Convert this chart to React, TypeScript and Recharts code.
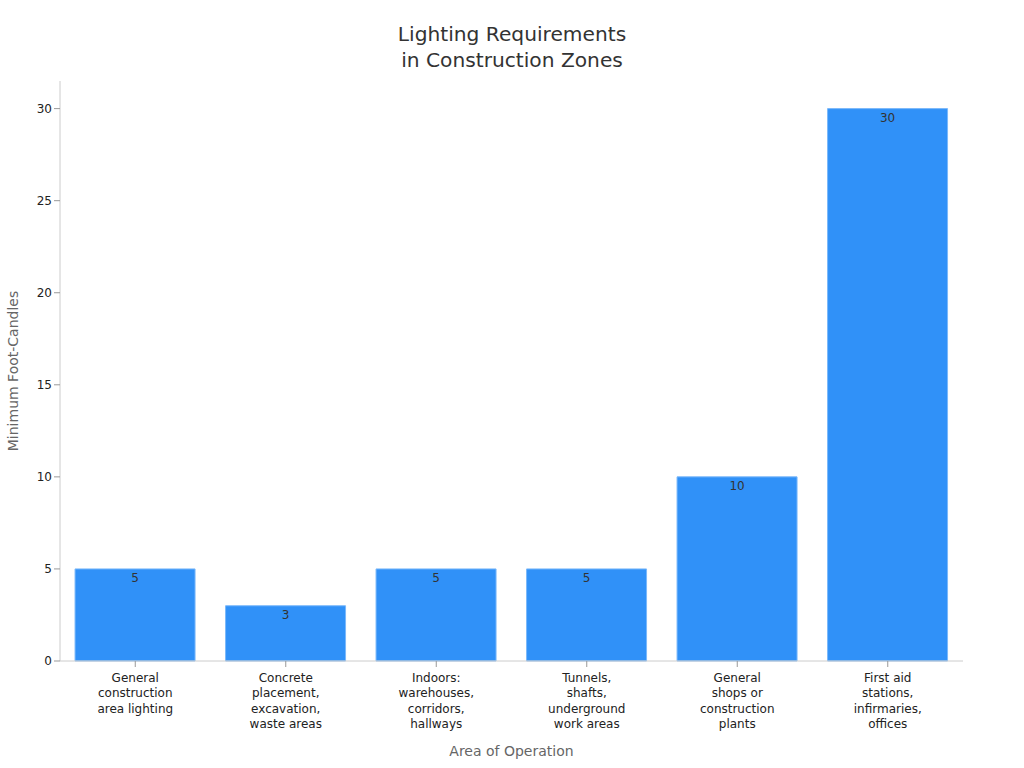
import React from "react";
import { Bar, BarChart, LabelList, Label, XAxis, YAxis } from "recharts";

const CATEGORIES = [
  "General\nconstruction\narea lighting",
  "Concrete\nplacement,\nexcavation,\nwaste areas",
  "Indoors:\nwarehouses,\ncorridors,\nhallways",
  "Tunnels,\nshafts,\nunderground\nwork areas",
  "General\nshops or\nconstruction\nplants",
  "First aid\nstations,\ninfirmaries,\noffices",
];
const FOOT_CANDLES = [5, 3, 5, 5, 10, 30];
const Y_TICKS = [0, 5, 10, 15, 20, 25, 30];

const FONT = "'DejaVu Sans', sans-serif";

const data = CATEGORIES.map((area, i) => ({ area, value: FOOT_CANDLES[i] }));

function AreaTick(props: any) {
  const { x, y, payload } = props;
  const lines = String(payload.value).split("\n");
  return (
    <text x={x} y={y + 12.5} textAnchor="middle" fill="#222" fontSize={12} fontFamily={FONT}>
      {lines.map((line, i) => (
        <tspan key={i} x={x} dy={i === 0 ? 0 : 15.6}>
          {line}
        </tspan>
      ))}
    </text>
  );
}

export default function App() {
  return (
    <div style={{ position: "absolute", left: 0, top: 0, width: 1024, height: 768, background: "#fff" }}>
      <div
        style={{
          position: "absolute",
          left: 0,
          top: 21,
          width: 1024,
          textAlign: "center",
          fontFamily: FONT,
          fontSize: 20.2,
          lineHeight: "26px",
          color: "#333",
        }}
      >
        Lighting Requirements
        <br />
        in Construction Zones
      </div>
      <BarChart
        width={1024}
        height={768}
        data={data}
        margin={{ top: 81, right: 61, left: 1, bottom: 7 }}
        barCategoryGap="10%"
        style={{ fontFamily: FONT }}
      >
        <XAxis
          dataKey="area"
          height={100}
          interval={0}
          tick={<AreaTick />}
          tickLine={{ stroke: "#999" }}
          axisLine={{ stroke: "#ccc" }}
        >
          <Label
            value="Area of Operation"
            position="insideBottom"
            offset={5}
            style={{ fill: "#666", fontSize: 14, fontFamily: FONT }}
          />
        </XAxis>
        <YAxis
          width={59}
          domain={[0, 31.5]}
          ticks={Y_TICKS}
          tick={{ fill: "#222", fontSize: 12, fontFamily: FONT }}
          tickLine={{ stroke: "#999" }}
          axisLine={{ stroke: "#ccc" }}
        >
          <Label
            value="Minimum Foot-Candles"
            angle={-90}
            position="insideLeft"
            offset={12}
            style={{ fill: "#666", fontSize: 14, fontFamily: FONT, textAnchor: "middle" }}
          />
        </YAxis>
        <Bar dataKey="value" fill="#3091f8" stroke="#7ab8fa" strokeWidth={1} isAnimationActive={false}>
          <LabelList
            dataKey="value"
            position="insideTop"
            offset={5}
            style={{ fill: "#333", fontSize: 12, fontFamily: FONT }}
          />
        </Bar>
      </BarChart>
    </div>
  );
}
